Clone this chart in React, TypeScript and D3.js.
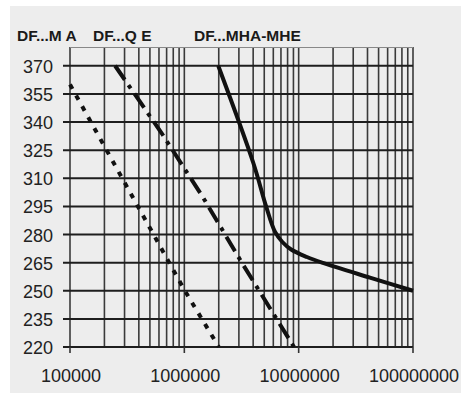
import React from "react";
import * as d3 from "d3";

const yTicks = [220, 235, 250, 265, 280, 295, 310, 325, 340, 355, 370];
const xTickLabels = ["100000", "1000000", "10000000", "100000000"];
const xTickValues = [1e5, 1e6, 1e7, 1e8];
const seriesNames = ["DF...M A", "DF...Q E", "DF...MHA-MHE"];

const seriesMA_x = [1e5, 1e6, 2e6];
const seriesMA_y = [360, 250.5, 220];

const seriesQE_x = [2.48e5, 6.34e5, 1.45e6, 3.18e6, 9.1e6];
const seriesQE_y = [370, 334, 300, 265, 220];

const seriesMHA_x = [1.98e6, 4.02e6, 5.19e6, 6.2e6, 7.2e6, 8.6e6, 1.18e7, 1.6e7, 4.2e7, 1e8];
const seriesMHA_y = [370, 318, 295, 281.5, 276, 272, 268, 265, 257, 250];

export default function App() {
  const W = 461, H = 394;
  const x = d3.scaleLog().domain([1e5, 1e8]).range([70, 413]);
  const y = d3.scaleLinear().domain([220, 380]).range([347, 47]);

  const minor: number[] = [];
  for (let k = 5; k < 8; k++) {
    for (let m = 1; m <= 9; m++) minor.push(m * Math.pow(10, k));
  }
  minor.push(1e8);

  const toPts = (xs: number[], ys: number[]) => xs.map((v, i) => [v, ys[i]] as [number, number]);
  const straight = d3.line<[number, number]>().x(d => x(d[0])).y(d => y(d[1]));
  const smooth = d3.line<[number, number]>().x(d => x(d[0])).y(d => y(d[1])).curve(d3.curveCatmullRom.alpha(0.5));

  const font = "'Liberation Sans', Arial, Helvetica, sans-serif";
  const labelX = [17, 93, 194];

  return (
    <svg width={W} height={H} style={{ position: "absolute", left: 0, top: 0 }}>
      <rect x={10} y={6} width={W - 10} height={387} fill="#ededed" />
      {minor.map((v, i) => (
        <line key={"v" + i} x1={x(v)} x2={x(v)} y1={47} y2={347} stroke="#3a3a3a" strokeWidth={1.6} />
      ))}
      <line x1={70} x2={413} y1={47.5} y2={47.5} stroke="#888" strokeWidth={1} />
      {yTicks.map((t, i) => (
        <line key={"h" + i} x1={63} x2={413} y1={y(t)} y2={y(t)} stroke="#1e1e1e" strokeWidth={2} />
      ))}
      {xTickValues.map((v, i) => (
        <line key={"xt" + i} x1={x(v)} x2={x(v)} y1={347} y2={353} stroke="#333" strokeWidth={1.6} />
      ))}
      {yTicks.map((t, i) => (
        <text key={"yl" + i} x={53} y={y(t) + 7} textAnchor="end" fontFamily={font} fontSize={18} fill="#222">
          {t}
        </text>
      ))}
      {xTickValues.map((v, i) => (
        <text key={"xl" + i} x={x(v) + 1} y={381.5} textAnchor="middle" fontFamily={font} fontSize={18} fill="#222">
          {xTickLabels[i]}
        </text>
      ))}
      {seriesNames.map((s, i) => (
        <text key={"s" + i} x={labelX[i]} y={40.5} fontFamily={font} fontSize={15.5} fontWeight="bold" fill="#1a1a1a">
          {s}
        </text>
      ))}
      <path d={straight(toPts(seriesMA_x, seriesMA_y)) || ""} fill="none" stroke="#111" strokeWidth={4} strokeDasharray="5,7.5" />
      <path d={straight(toPts(seriesQE_x, seriesQE_y)) || ""} fill="none" stroke="#111" strokeWidth={4} strokeDasharray="17,6.5,4,6.5" />
      <path d={smooth(toPts(seriesMHA_x, seriesMHA_y)) || ""} fill="none" stroke="#111" strokeWidth={4} />
    </svg>
  );
}
